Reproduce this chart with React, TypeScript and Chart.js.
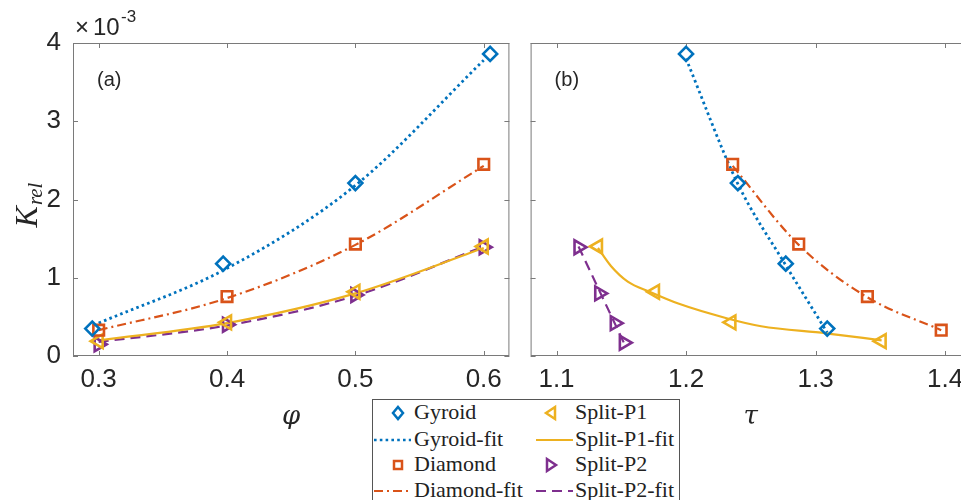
import React, { useEffect, useRef } from 'react';
import { Chart, registerables } from 'chart.js';
Chart.register(...registerables);

// ---------- Panel (a): K_rel (x1e-3) vs phi ----------
const phiGyroid = [0.295, 0.397, 0.5, 0.605];
const kGyroidA = [0.35, 1.18, 2.21, 3.86];
const phiDiamond = [0.3, 0.4, 0.5, 0.6];
const kDiamondA = [0.33, 0.76, 1.43, 2.45];
const phiSplitP1 = [0.3, 0.4, 0.5, 0.6];
const kSplitP1A = [0.19, 0.43, 0.82, 1.4];
const phiSplitP2 = [0.3, 0.4, 0.5, 0.6];
const kSplitP2A = [0.15, 0.4, 0.78, 1.39];
const phiFit = [0.3, 0.4, 0.5, 0.6];
const kGyroidFitA = [0.42, 1.12, 2.18, 3.78];
const kDiamondFitA = [0.33, 0.74, 1.42, 2.43];
const kSplitP1FitA = [0.2, 0.42, 0.8, 1.38];
const kSplitP2FitA = [0.18, 0.39, 0.77, 1.4];

// ---------- Panel (b): K_rel (x1e-3) vs tau ----------
const tauGyroid = [1.2, 1.24, 1.277, 1.309];
const kGyroidB = [3.86, 2.21, 1.18, 0.35];
const tauDiamond = [1.236, 1.287, 1.34, 1.397];
const kDiamondB = [2.45, 1.43, 0.76, 0.33];
const tauSplitP1 = [1.132, 1.176, 1.235, 1.351];
const kSplitP1B = [1.4, 0.82, 0.43, 0.19];
const tauSplitP2 = [1.117, 1.133, 1.145, 1.152];
const kSplitP2B = [1.39, 0.8, 0.42, 0.17];
const tauGyroidFit = [1.2, 1.24, 1.277, 1.309];
const kGyroidFitB = [3.8, 2.2, 1.16, 0.3];
const tauDiamondFit = [1.236, 1.287, 1.34, 1.397];
const kDiamondFitB = [2.43, 1.42, 0.75, 0.33];
const tauSplitP1Fit = [1.132, 1.142, 1.155, 1.172, 1.194, 1.232, 1.258, 1.308, 1.351];
const kSplitP1FitB = [1.38, 1.15, 0.95, 0.82, 0.67, 0.48, 0.38, 0.29, 0.2];
const tauSplitP2Fit = [1.117, 1.152];
const kSplitP2FitB = [1.4, 0.17];

// ---------- ticks / labels ----------
const xTicksA = [0.3, 0.4, 0.5, 0.6];
const xTickLabelsA = ['0.3', '0.4', '0.5', '0.6'];
const xTicksB = [1.1, 1.2, 1.3, 1.4];
const xTickLabelsB = ['1.1', '1.2', '1.3', '1.4'];
const yTicks = [0, 1, 2, 3, 4];
const yTickLabels = ['0', '1', '2', '3', '4'];
const legendLabels = ['Gyroid', 'Gyroid-fit', 'Diamond', 'Diamond-fit', 'Split-P1', 'Split-P1-fit', 'Split-P2', 'Split-P2-fit'];

const BLUE = '#0072BD';
const RED = '#D95319';
const YELLOW = '#EDB120';
const PURPLE = '#7E2F8E';
const TXT = '#262626';
const FRAME = '#7a7a7a';

const pts = (xs: number[], ys: number[]) => xs.map((x, i) => ({ x, y: ys[i] }));

const marker = (label: string, data: any[], color: string, style: string, radius: number, rotation = 0) => ({
  label,
  data,
  showLine: false,
  pointStyle: style,
  pointRadius: radius,
  pointRotation: rotation,
  pointBorderColor: color,
  pointBackgroundColor: 'rgba(0,0,0,0)',
  pointBorderWidth: 2.6,
  borderColor: color,
});

const fit = (label: string, data: any[], color: string, dash: number[], width = 2.2) => ({
  label,
  data,
  showLine: true,
  pointRadius: 0,
  borderColor: color,
  borderWidth: width,
  borderDash: dash,
  cubicInterpolationMode: 'monotone',
  fill: false,
});

const framePlugin = {
  id: 'frame',
  beforeDatasetsDraw(chart: any) {
    const { ctx, chartArea } = chart;
    const { left, right, top, bottom } = chartArea;
    const xs = chart.scales.x;
    const ys = chart.scales.y;
    ctx.save();
    ctx.strokeStyle = FRAME;
    ctx.lineWidth = 1;
    ctx.strokeRect(left + 0.5, top + 0.5, right - left - 1, bottom - top - 1);
    const len = 5;
    ctx.beginPath();
    xs.ticks.forEach((t: any) => {
      const px = Math.round(xs.getPixelForValue(t.value)) + 0.5;
      ctx.moveTo(px, bottom);
      ctx.lineTo(px, bottom - len);
      ctx.moveTo(px, top);
      ctx.lineTo(px, top + len);
    });
    ys.ticks.forEach((t: any) => {
      const py = Math.round(ys.getPixelForValue(t.value)) + 0.5;
      ctx.moveTo(left, py);
      ctx.lineTo(left + len, py);
      ctx.moveTo(right, py);
      ctx.lineTo(right - len, py);
    });
    ctx.stroke();
    ctx.restore();
  },
};

const annotPlugin = {
  id: 'annot',
  afterDraw(chart: any, _args: any, opts: any) {
    const { ctx, chartArea } = chart;
    ctx.save();
    ctx.fillStyle = TXT;
    ctx.textBaseline = 'middle';
    ctx.textAlign = 'left';
    ctx.font = '20px "Liberation Sans", Arial, sans-serif';
    ctx.fillText(opts.panel, chartArea.left + 24, chartArea.top + 37);
    // x-axis title
    ctx.textAlign = 'center';
    ctx.font = 'italic 26px "DejaVu Serif", "Liberation Serif", serif';
    ctx.fillText(opts.xTitle, (chartArea.left + chartArea.right) / 2, opts.xTitleY);
    if (opts.showY) {
      // exponent label
      ctx.textAlign = 'left';
      ctx.textBaseline = 'alphabetic';
      ctx.font = '24px "Liberation Sans", Arial, sans-serif';
      ctx.fillText('\u00d7', 75, 35);
      ctx.fillText('10', 93, 35);
      ctx.font = '17px "Liberation Sans", Arial, sans-serif';
      ctx.fillText('-3', 121, 22);
      // y-axis title K_rel
      ctx.translate(37, 205);
      ctx.rotate(-Math.PI / 2);
      ctx.font = 'italic 32px "Liberation Serif", serif';
      const wK = ctx.measureText('K').width;
      ctx.font = 'italic 21px "Liberation Serif", serif';
      const wR = ctx.measureText('rel').width;
      const start = -(wK + wR + 1) / 2;
      ctx.font = 'italic 32px "Liberation Serif", serif';
      ctx.fillText('K', start, 0);
      ctx.font = 'italic 21px "Liberation Serif", serif';
      ctx.fillText('rel', start + wK + 1, 5);
    }
    ctx.restore();
  },
};

function buildConfig(panel: 'a' | 'b'): any {
  const isA = panel === 'a';
  const datasets = isA
    ? [
        marker('Gyroid', pts(phiGyroid, kGyroidA), BLUE, 'rectRot', 7),
        marker('Diamond', pts(phiDiamond, kDiamondA), RED, 'rect', 7.5),
        marker('Split-P1', pts(phiSplitP1, kSplitP1A), YELLOW, 'triangle', 8, -90),
        marker('Split-P2', pts(phiSplitP2, kSplitP2A), PURPLE, 'triangle', 8, 90),
        fit('Gyroid-fit', pts(phiFit, kGyroidFitA), BLUE, [2.6, 3.2], 2.8),
        fit('Diamond-fit', pts(phiFit, kDiamondFitA), RED, [9, 4, 2, 4]),
        fit('Split-P1-fit', pts(phiFit, kSplitP1FitA), YELLOW, []),
        fit('Split-P2-fit', pts(phiFit, kSplitP2FitA), PURPLE, [10, 6]),
      ]
    : [
        marker('Gyroid', pts(tauGyroid, kGyroidB), BLUE, 'rectRot', 7),
        marker('Diamond', pts(tauDiamond, kDiamondB), RED, 'rect', 7.5),
        marker('Split-P1', pts(tauSplitP1, kSplitP1B), YELLOW, 'triangle', 8, -90),
        marker('Split-P2', pts(tauSplitP2, kSplitP2B), PURPLE, 'triangle', 8, 90),
        fit('Gyroid-fit', pts(tauGyroidFit, kGyroidFitB), BLUE, [2.6, 3.2], 2.8),
        fit('Diamond-fit', pts(tauDiamondFit, kDiamondFitB), RED, [9, 4, 2, 4]),
        fit('Split-P1-fit', pts(tauSplitP1Fit, kSplitP1FitB), YELLOW, []),
        fit('Split-P2-fit', pts(tauSplitP2Fit, kSplitP2FitB), PURPLE, [10, 6]),
      ];
  const xTicks = isA ? xTicksA : xTicksB;
  const xLabels = isA ? xTickLabelsA : xTickLabelsB;
  const tickFont = { family: '"Liberation Sans", Arial, sans-serif', size: 26 };
  return {
    type: 'scatter',
    data: { datasets },
    plugins: [framePlugin, annotPlugin],
    options: {
      animation: false,
      responsive: false,
      devicePixelRatio: 1,
      layout: { padding: isA ? { left: 0, right: 8, top: 43, bottom: 0 } : { left: 9, right: 19, top: 43, bottom: 0 } },
      plugins: {
        legend: { display: false },
        tooltip: { enabled: false },
        annot: { panel: isA ? '(a)' : '(b)', xTitle: isA ? '\u03c6' : '\u03c4', xTitleY: 417, showY: isA },
      },
      scales: {
        x: {
          type: 'linear',
          min: isA ? 0.28 : 1.08,
          max: isA ? 0.62 : 1.42,
          grid: { display: false, drawTicks: false },
          border: { display: false },
          afterBuildTicks: (s: any) => {
            s.ticks = xTicks.map((v) => ({ value: v }));
          },
          afterFit: (s: any) => {
            s.height = 144;
          },
          ticks: {
            padding: 8,
            color: TXT,
            font: tickFont,
            maxRotation: 0,
            autoSkip: false,
            callback: (_v: any, i: number) => xLabels[i],
          },
        },
        y: {
          type: 'linear',
          min: 0,
          max: 4,
          grid: { display: false, drawTicks: false },
          border: { display: false },
          afterBuildTicks: (s: any) => {
            s.ticks = yTicks.map((v) => ({ value: v }));
          },
          afterFit: (s: any) => {
            s.width = isA ? 73 : 0;
          },
          ticks: {
            display: isA,
            padding: 12,
            color: TXT,
            font: tickFont,
            autoSkip: false,
            callback: (_v: any, i: number) => yTickLabels[i],
          },
        },
      },
    },
  };
}

function Legend() {
  const rows = [13, 40, 65, 91];
  const c1 = 25;
  const c2 = 178;
  const textStyle = (left: number, cy: number): React.CSSProperties => ({
    position: 'absolute',
    left,
    top: cy - 14,
    height: 28,
    lineHeight: '28px',
    font: '22px "Liberation Serif", "Times New Roman", serif',
    color: '#222',
    whiteSpace: 'nowrap',
  });
  return (
    <div
      style={{
        position: 'absolute',
        left: 372,
        top: 399,
        width: 306,
        height: 130,
        border: '1.5px solid #555',
        background: '#fff',
        overflow: 'hidden',
      }}
    >
      <svg width={306} height={130} style={{ position: 'absolute', left: 0, top: 0 }}>
        <polygon points={`${c1},${rows[0] - 6} ${c1 + 5},${rows[0]} ${c1},${rows[0] + 6} ${c1 - 5},${rows[0]}`} fill="none" stroke={BLUE} strokeWidth={2.5} />
        <line x1={1} y1={rows[1]} x2={38} y2={rows[1]} stroke={BLUE} strokeWidth={2.6} strokeDasharray="2.6 3.2" />
        <rect x={c1 - 4} y={rows[2] - 4} width={8} height={8} fill="none" stroke={RED} strokeWidth={2.5} />
        <line x1={1} y1={rows[3]} x2={38} y2={rows[3]} stroke={RED} strokeWidth={2.2} strokeDasharray="9 4 2 4" />
        <polygon points={`${c2 - 5},${rows[0]} ${c2 + 4},${rows[0] - 6} ${c2 + 4},${rows[0] + 6}`} fill="none" stroke={YELLOW} strokeWidth={2.5} />
        <line x1={163} y1={rows[1]} x2={200} y2={rows[1]} stroke={YELLOW} strokeWidth={2.2} />
        <polygon points={`${c2 + 5},${rows[2]} ${c2 - 4},${rows[2] - 6} ${c2 - 4},${rows[2] + 6}`} fill="none" stroke={PURPLE} strokeWidth={2.5} />
        <line x1={163} y1={rows[3]} x2={200} y2={rows[3]} stroke={PURPLE} strokeWidth={2.2} strokeDasharray="10 6" />
      </svg>
      <div style={textStyle(41, rows[0])}>{legendLabels[0]}</div>
      <div style={textStyle(41, rows[1])}>{legendLabels[1]}</div>
      <div style={textStyle(41, rows[2])}>{legendLabels[2]}</div>
      <div style={textStyle(41, rows[3])}>{legendLabels[3]}</div>
      <div style={textStyle(202, rows[0])}>{legendLabels[4]}</div>
      <div style={textStyle(202, rows[1])}>{legendLabels[5]}</div>
      <div style={textStyle(202, rows[2])}>{legendLabels[6]}</div>
      <div style={textStyle(202, rows[3])}>{legendLabels[7]}</div>
    </div>
  );
}

export default function App() {
  const refA = useRef<HTMLCanvasElement>(null);
  const refB = useRef<HTMLCanvasElement>(null);
  useEffect(() => {
    const a = new Chart(refA.current as HTMLCanvasElement, buildConfig('a'));
    const b = new Chart(refB.current as HTMLCanvasElement, buildConfig('b'));
    return () => {
      a.destroy();
      b.destroy();
    };
  }, []);
  return (
    <div style={{ position: 'fixed', left: 0, top: 0, width: 961, height: 500, overflow: 'hidden', background: '#fff' }}>
      <canvas ref={refA} width={520} height={500} style={{ position: 'absolute', left: 0, top: 0, width: 520, height: 500 }} />
      <canvas ref={refB} width={470} height={500} style={{ position: 'absolute', left: 520, top: 0, width: 470, height: 500 }} />
      <Legend />
    </div>
  );
}
